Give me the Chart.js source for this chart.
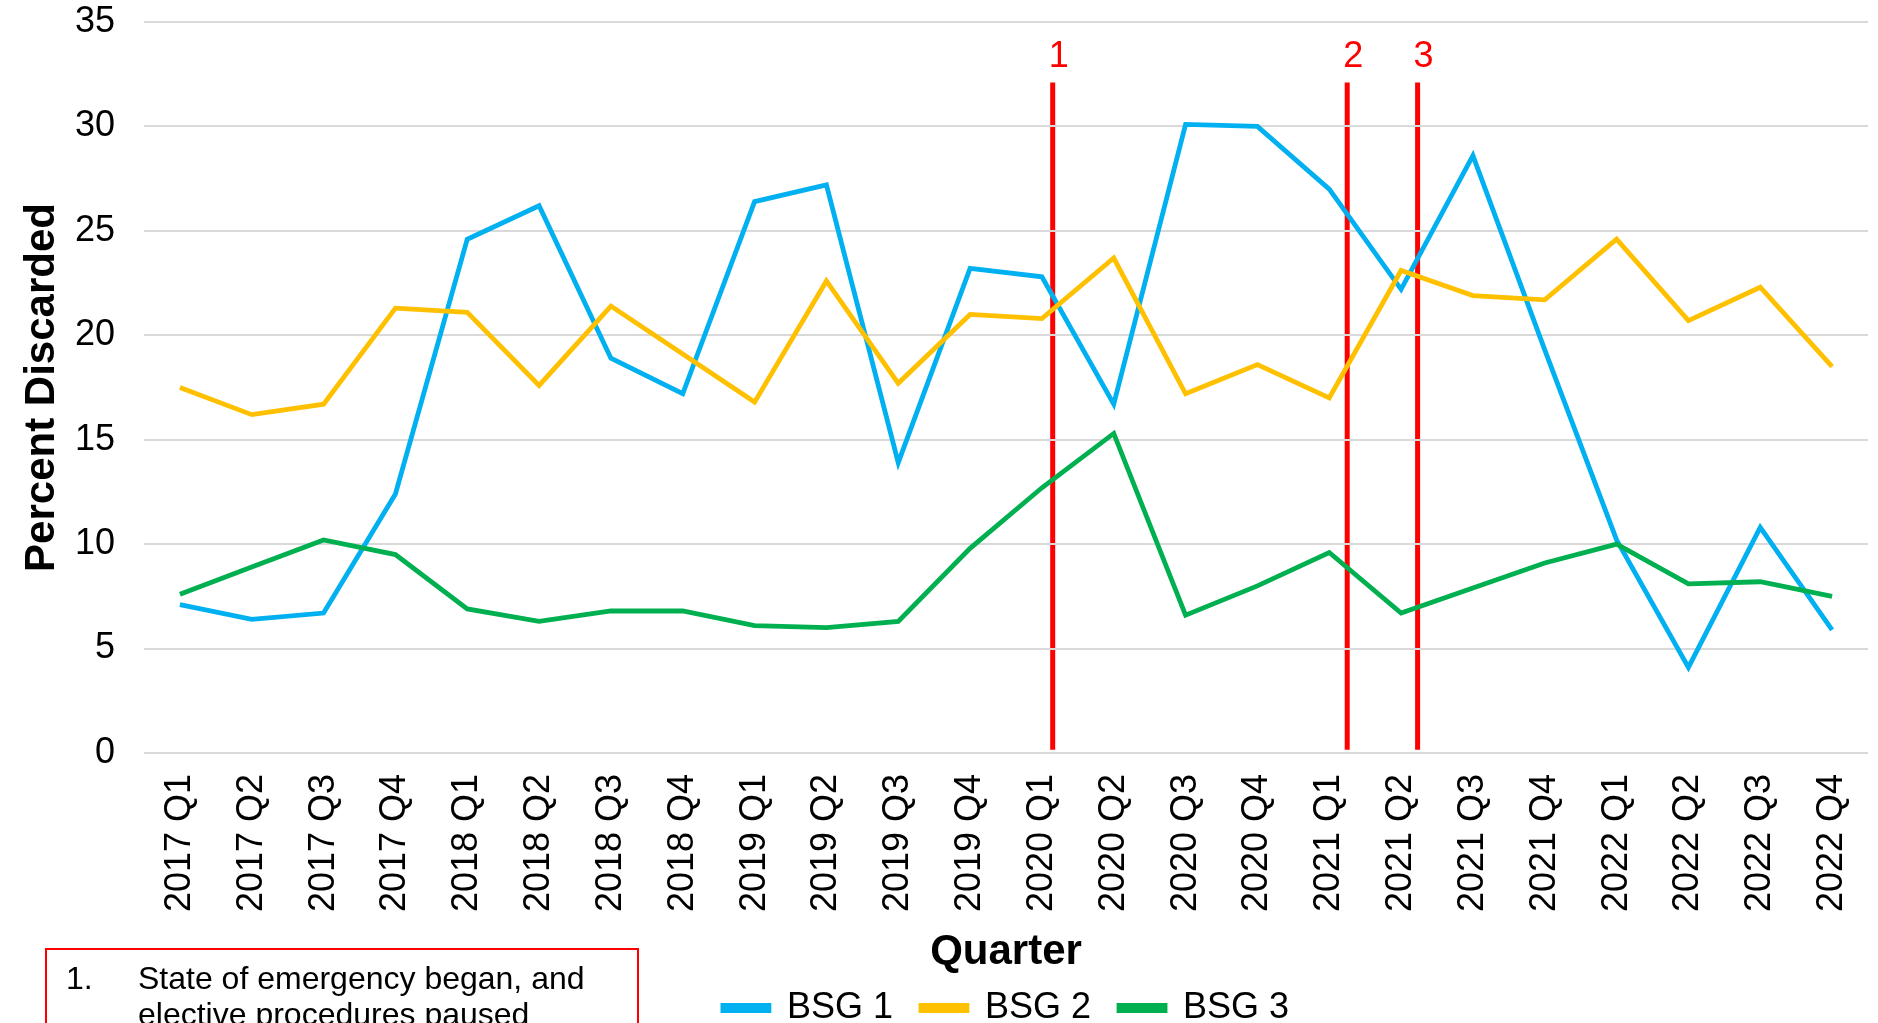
<!DOCTYPE html>
<html>
<head>
<meta charset="utf-8">
<script src="https://cdn.jsdelivr.net/npm/chart.js@4.4.1/dist/chart.umd.min.js"></script>
<style>
  html, body { margin: 0; padding: 0; background: #fff; overflow: hidden; width: 1878px; height: 1023px; }
  #contenedor { position: relative; width: 1878px; height: 1023px; overflow: hidden; }
  #myChart { position: absolute; left: 0; top: 0; }
  #nota {
    position: absolute; left: 45px; top: 948px; width: 594px; height: 120px;
    border: 2px solid #ff0000; box-sizing: border-box;
    font-family: "Liberation Sans", Arial, sans-serif; font-size: 32px; line-height: 36px; color: #000;
    padding: 10px 0 0 91px;
  }
  #nota .num { position: absolute; left: 19px; top: 10px; }
</style>
</head>
<body>
<div id="contenedor">
  <canvas id="myChart" width="1878" height="1036"></canvas>
  <div id="nota"><span class="num">1.</span>State of emergency began, and<br>elective procedures paused</div>
</div>
<script>
// DATOS
const quarters = ['2017 Q1','2017 Q2','2017 Q3','2017 Q4','2018 Q1','2018 Q2','2018 Q3','2018 Q4',
  '2019 Q1','2019 Q2','2019 Q3','2019 Q4','2020 Q1','2020 Q2','2020 Q3','2020 Q4',
  '2021 Q1','2021 Q2','2021 Q3','2021 Q4','2022 Q1','2022 Q2','2022 Q3','2022 Q4']
const bsg1 = [7.1, 6.4, 6.7, 12.4, 24.6, 26.2, 18.9, 17.2, 26.4, 27.2, 13.9, 23.2,
  22.8, 16.7, 30.1, 30.0, 27.0, 22.2, 28.6, 19.3, 10.2, 4.1, 10.8, 5.9]
const bsg2 = [17.5, 16.2, 16.7, 21.3, 21.1, 17.6, 21.4, 19.1, 16.8, 22.6, 17.7, 21.0,
  20.8, 23.7, 17.2, 18.6, 17.0, 23.1, 21.9, 21.7, 24.6, 20.7, 22.3, 18.5]
const bsg3 = [7.6, 8.9, 10.2, 9.5, 6.9, 6.3, 6.8, 6.8, 6.1, 6.0, 6.3, 9.8,
  12.7, 15.3, 6.6, 8.0, 9.6, 6.7, 7.9, 9.1, 10.0, 8.1, 8.2, 7.5]
const seriesNames = ['BSG 1', 'BSG 2', 'BSG 3']
const yTicks = [0, 5, 10, 15, 20, 25, 30, 35]
// eventos (posicion en indice de trimestre)
const eventPos = [12.15, 16.25, 17.23]
const eventLabels = ['1', '2', '3']
const eventTop = 32.1
const eventBottom = 0.15

const FONT = '"Liberation Sans", Arial, sans-serif'

// LINEAS ROJAS DE EVENTOS
const eventLines = {
  id: 'eventLines',
  beforeDraw: (chart) => {
    const ctx = chart.ctx
    const x = chart.scales.x
    const y = chart.scales.y
    ctx.save()
    ctx.fillStyle = '#fff'
    ctx.fillRect(0, 0, chart.width, chart.height)
    ctx.strokeStyle = '#ff0000'
    ctx.lineWidth = 5
    ctx.fillStyle = '#ff0000'
    ctx.font = '36px ' + FONT
    ctx.textAlign = 'center'
    ctx.textBaseline = 'middle'
    eventPos.forEach((p, i) => {
      const px = x.getPixelForValue(p)
      ctx.beginPath()
      ctx.moveTo(px, y.getPixelForValue(eventTop))
      ctx.lineTo(px, y.getPixelForValue(eventBottom))
      ctx.stroke()
      ctx.fillText(eventLabels[i], px + 6, y.getPixelForValue(eventTop) - 25)
    })
    ctx.restore()
  }
}

const chart = document.getElementById('myChart')

new Chart(chart, {
  type: 'line',
  data: {
    labels: quarters,
    datasets: [
      { label: seriesNames[0], data: bsg1, borderColor: '#00B0F0', backgroundColor: '#00B0F0', order: 3 },
      { label: seriesNames[1], data: bsg2, borderColor: '#FFC000', backgroundColor: '#FFC000', order: 2 },
      { label: seriesNames[2], data: bsg3, borderColor: '#00B050', backgroundColor: '#00B050', order: 1 }
    ]
  },
  options: {
    responsive: false,
    animation: false,
    devicePixelRatio: 1,
    layout: { padding: { top: 22, right: 10, left: 0, bottom: 0 } },
    elements: {
      line: { borderWidth: 4.8, tension: 0, fill: false },
      point: { radius: 0, hoverRadius: 0 }
    },
    scales: {
      x: {
        offset: true,
        grid: { display: false },
        border: { display: false },
        ticks: {
          color: '#000', font: { family: FONT, size: 36 },
          minRotation: 90, maxRotation: 90, autoSkip: false, padding: 13
        },
        title: {
          display: true, text: 'Quarter', color: '#000',
          font: { family: FONT, size: 42, weight: 'bold', lineHeight: 1.2 },
          padding: { top: 0, bottom: -16 }
        },
        afterFit: (s) => { s.height = 209; s.paddingLeft = 0; s.paddingRight = 0 }
      },
      y: {
        min: 0, max: 35,
        afterBuildTicks: (s) => { s.ticks = yTicks.map(v => ({ value: v })) },
        grid: { color: '#d9d9d9', lineWidth: 2, drawTicks: false },
        border: { display: false },
        ticks: { color: '#000', font: { family: FONT, size: 36 }, padding: 29 },
        title: {
          display: true, text: 'Percent Discarded', color: '#000',
          font: { family: FONT, size: 42, weight: 'bold', lineHeight: 1.2 },
          padding: { top: 17, bottom: 0 }
        },
        afterFit: (s) => { s.width = 144; s.paddingTop = 0; s.paddingBottom = 0 }
      }
    },
    plugins: {
      title: { display: false },
      tooltip: { enabled: false },
      legend: {
        position: 'bottom',
        fullSize: false,
        labels: {
          color: '#000',
          font: { family: FONT, size: 36 },
          boxWidth: 46,
          boxHeight: 5,
          padding: 28,
          sort: (a, b) => a.datasetIndex - b.datasetIndex
        }
      }
    }
  },
  plugins: [eventLines]
})
</script>
</body>
</html>
